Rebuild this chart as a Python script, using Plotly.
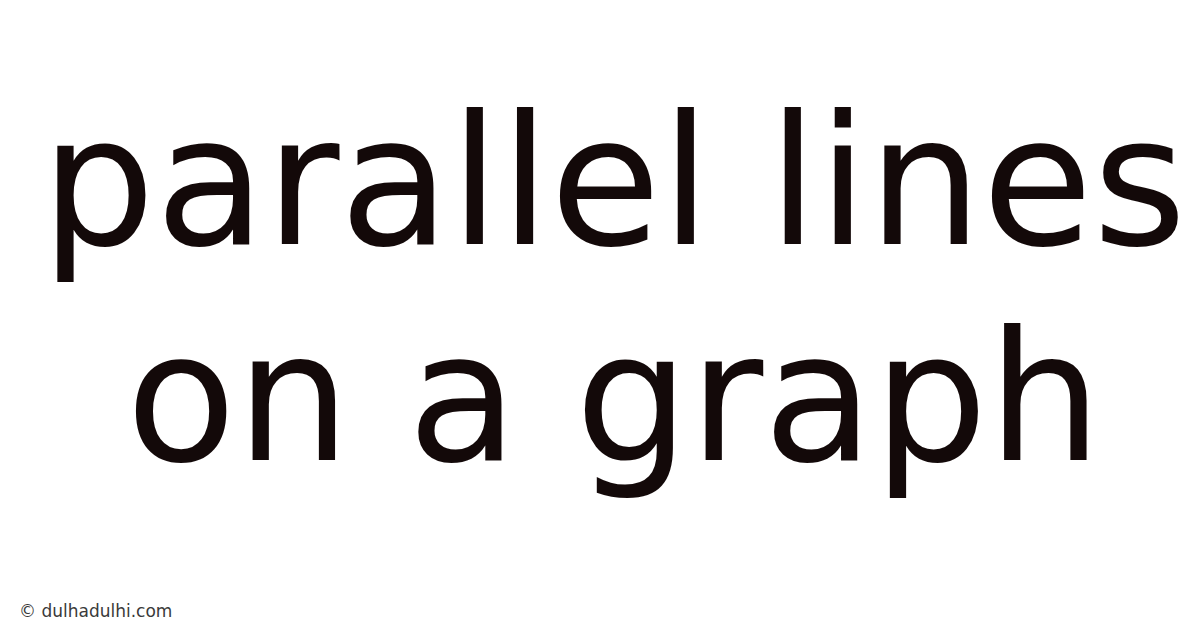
import plotly.graph_objects as go

title_lines = ["parallel lines", "on a graph"]
line_centers_x = [605, 606]
line_centers_y = [173, 389]
watermark = "© dulhadulhi.com"

W, H = 1200, 628
fig = go.Figure()
for txt, cx, cy in zip(title_lines, line_centers_x, line_centers_y):
    fig.add_annotation(x=cx, y=H - cy, xref="x", yref="y", text=txt, showarrow=False,
                       xanchor="center", yanchor="middle",
                       font=dict(family="DejaVu Sans", size=180, color="#130909"))
fig.add_annotation(x=9, y=H - 603, xref="x", yref="y", text=watermark, showarrow=False,
                   xanchor="left", yanchor="middle",
                   font=dict(family="DejaVu Sans", size=17, color="#3a3a3a"))
fig.update_xaxes(range=[0, W], visible=False, fixedrange=True)
fig.update_yaxes(range=[0, H], visible=False, fixedrange=True)
fig.update_layout(width=W, height=H, margin=dict(l=0, r=0, t=0, b=0),
                  paper_bgcolor="white", plot_bgcolor="white", showlegend=False)
fig.write_html("out.html", config={"displayModeBar": False})
